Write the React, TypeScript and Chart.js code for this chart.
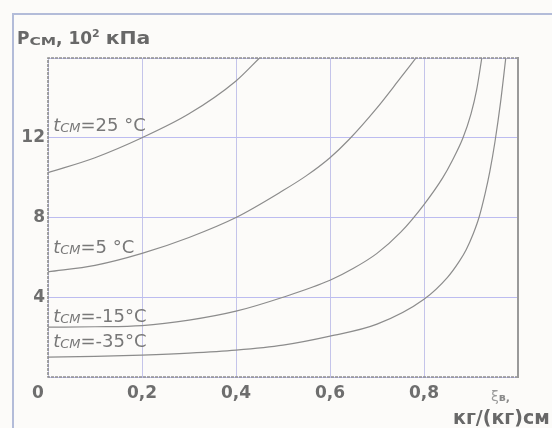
import React, { useEffect, useRef } from "react";
import Chart from "chart.js/auto";

// ξв, kg/(kg)см  (x)  vs  Pсм, 10^2 kPa  (y)
const xs25 = [0, 0.1, 0.2, 0.3, 0.4, 0.45];
const p25 = [10.25, 11.0, 12.0, 13.2, 14.85, 16];
const xs5 = [0, 0.1, 0.2, 0.3, 0.4, 0.5, 0.55, 0.6, 0.64, 0.7, 0.75, 0.783];
const p5 = [5.27, 5.6, 6.2, 7.0, 8.0, 9.35, 10.1, 11.0, 11.9, 13.5, 15.0, 16];
const xsM15 = [0, 0.1, 0.2, 0.3, 0.4, 0.5, 0.6, 0.65, 0.7, 0.75, 0.8, 0.84, 0.86, 0.883, 0.9, 0.912, 0.923];
const pM15 = [2.5, 2.52, 2.58, 2.85, 3.3, 4.0, 4.85, 5.45, 6.2, 7.25, 8.65, 10.0, 10.85, 12.0, 13.2, 14.4, 16];
const xsM35 = [0, 0.1, 0.2, 0.3, 0.4, 0.5, 0.6, 0.7, 0.8, 0.85, 0.875, 0.89, 0.905, 0.917, 0.93, 0.94, 0.951, 0.963, 0.974];
const pM35 = [1.0, 1.03, 1.1, 1.2, 1.35, 1.6, 2.05, 2.65, 3.9, 5.0, 5.8, 6.4, 7.2, 8.0, 9.2, 10.3, 11.8, 13.8, 16];

const seriesTemps = ["25 °C", "5 °C", "-15°C", "-35°C"];
const seriesX = [xs25, xs5, xsM15, xsM35];
const seriesY = [p25, p5, pM15, pM35];

const xTickValues = [0, 0.2, 0.4, 0.6, 0.8, 1.0];
const xTickLabels = ["", "0,2", "0,4", "0,6", "0,8", ""];
const yTickLabels: Record<number, string> = { 0: "", 4: "4", 8: "8", 12: "12", 16: "" };

// label anchor (data coords of the label's left baseline)
const labelX = [0.011, 0.011, 0.011, 0.011];
const labelY = [12.35, 6.2, 2.75, 1.5];

const FONT = "'DejaVu Sans', Verdana, sans-serif";
const TXT = "#6e6e6e";
const CURVE = "#8c8c8c";
const GRID_X = "#c4c4ea";
const GRID_Y = "#bcbcf0";

type Part = { t: string; font: string; dy?: number; sx?: number; color?: string };

function drawParts(ctx: CanvasRenderingContext2D, parts: Part[], x: number, y: number, color: string) {
  ctx.save();
  ctx.textBaseline = "alphabetic";
  ctx.textAlign = "left";
  let cx = x;
  for (const p of parts) {
    const sx = p.sx || 1;
    ctx.font = p.font;
    ctx.fillStyle = p.color || color;
    ctx.save();
    ctx.translate(cx, y + (p.dy || 0));
    ctx.scale(sx, 1);
    ctx.fillText(p.t, 0, 0);
    ctx.restore();
    cx += ctx.measureText(p.t).width * sx;
  }
  ctx.restore();
}

const decorPlugin = {
  id: "decor",
  beforeDraw(chart: any) {
    const ctx = chart.ctx as CanvasRenderingContext2D;
    ctx.save();
    ctx.fillStyle = "#fcfbf9";
    ctx.fillRect(0, 0, chart.width, chart.height);
    ctx.strokeStyle = "#b3bcd9";
    ctx.lineWidth = 2;
    ctx.beginPath();
    ctx.moveTo(13, chart.height + 2);
    ctx.lineTo(13, 14);
    ctx.lineTo(chart.width + 2, 14);
    ctx.stroke();
    ctx.restore();
  },
  afterDraw(chart: any) {
    const ctx = chart.ctx as CanvasRenderingContext2D;
    const a = chart.chartArea;
    const xs = chart.scales.x;
    const ys = chart.scales.y;
    ctx.save();
    // plot frame
    ctx.strokeStyle = "#8e8e8e";
    ctx.lineWidth = 1.6;
    ctx.setLineDash([3, 1]);
    ctx.beginPath();
    ctx.moveTo(a.right, a.top);
    ctx.lineTo(a.left, a.top);
    ctx.lineTo(a.left, a.bottom);
    ctx.lineTo(a.right, a.bottom);
    ctx.stroke();
    ctx.setLineDash([]);
    ctx.strokeStyle = "#9a9a9a";
    ctx.lineWidth = 2;
    ctx.beginPath();
    ctx.moveTo(a.right, a.top - 1);
    ctx.lineTo(a.right, a.bottom + 1);
    ctx.stroke();
    ctx.restore();

    // curve labels
    for (let i = 0; i < seriesTemps.length; i++) {
      const px = xs.getPixelForValue(labelX[i]);
      const py = ys.getPixelForValue(labelY[i]);
      drawParts(
        ctx,
        [
          { t: "t", font: `italic 18px ${FONT}` },
          { t: "CM", font: `italic 13px ${FONT}`, dy: 1 },
          { t: "=" + seriesTemps[i], font: `18px ${FONT}` },
        ],
        px,
        py,
        "#787878"
      );
    }

    // y axis title
    drawParts(
      ctx,
      [
        { t: "P", font: `bold 17px ${FONT}` },
        { t: "CM", font: `bold 11px ${FONT}`, dy: 1, sx: 1.4 },
        { t: ", 10", font: `bold 17px ${FONT}` },
        { t: "2", font: `bold 11px ${FONT}`, dy: -7 },
        { t: " ", font: `bold 17px ${FONT}` },
        { t: "кПа", font: `bold 17px ${FONT}`, sx: 1.2 },
      ],
      17,
      44,
      "#686868"
    );

    // origin label
    ctx.save();
    ctx.fillStyle = TXT;
    ctx.font = `bold 17px ${FONT}`;
    ctx.textAlign = "center";
    ctx.textBaseline = "middle";
    ctx.fillText("0", 38, 394);
    ctx.restore();

    // x axis title
    drawParts(
      ctx,
      [
        { t: "ξ", font: `14px ${FONT}`, color: "#9a9a9a" },
        { t: "в,", font: `bold 11px ${FONT}`, color: "#8a8a8a" },
      ],
      491,
      401,
      "#9a9a9a"
    );
    drawParts(ctx, [{ t: "кг/(кг)см", font: `bold 19px ${FONT}` }], 453, 424, "#686868");
  },
};

export default function App() {
  const ref = useRef<HTMLCanvasElement>(null);
  useEffect(() => {
    if (!ref.current) return;
    const datasets = seriesTemps.map((t, i) => ({
      label: "t=" + t,
      data: seriesX[i].map((x, j) => ({ x, y: seriesY[i][j] })),
      borderColor: CURVE,
      borderWidth: 1.2,
      pointRadius: 0,
      fill: false,
      cubicInterpolationMode: "monotone" as const,
    }));
    const chart = new Chart(ref.current, {
      type: "line",
      data: { datasets },
      options: {
        animation: false,
        responsive: false,
        layout: { padding: { left: 0, right: 34, top: 58, bottom: 0 } },
        plugins: { legend: { display: false }, tooltip: { enabled: false } },
        scales: {
          x: {
            type: "linear",
            min: 0,
            max: 1,
            afterBuildTicks: (s: any) => {
              s.ticks = xTickValues.map((v) => ({ value: v }));
            },
            afterFit: (s: any) => {
              s.height = 51;
            },
            ticks: {
              callback: (v: any) => xTickLabels[xTickValues.findIndex((t) => Math.abs(t - v) < 1e-6)] ?? "",
              color: TXT,
              font: { family: FONT, size: 17, weight: "bold" },
              padding: 6,
              maxRotation: 0,
              autoSkip: false,
            },
            grid: { drawTicks: false, lineWidth: 1, color: GRID_X },
            border: { display: false },
          },
          y: {
            type: "linear",
            min: 0,
            max: 16,
            afterFit: (s: any) => {
              s.width = 48;
            },
            ticks: {
              stepSize: 4,
              callback: (v: any) => yTickLabels[v] ?? "",
              color: TXT,
              font: { family: FONT, size: 17, weight: "bold" },
              padding: 3,
            },
            grid: { drawTicks: false, lineWidth: 1, color: GRID_Y },
            border: { display: false },
          },
        },
      },
      plugins: [decorPlugin],
    });
    return () => chart.destroy();
  }, []);
  return (
    <div style={{ position: "fixed", left: 0, top: 0, width: 552, height: 428 }}>
      <canvas ref={ref} width={552} height={428} style={{ width: 552, height: 428 }} />
    </div>
  );
}
